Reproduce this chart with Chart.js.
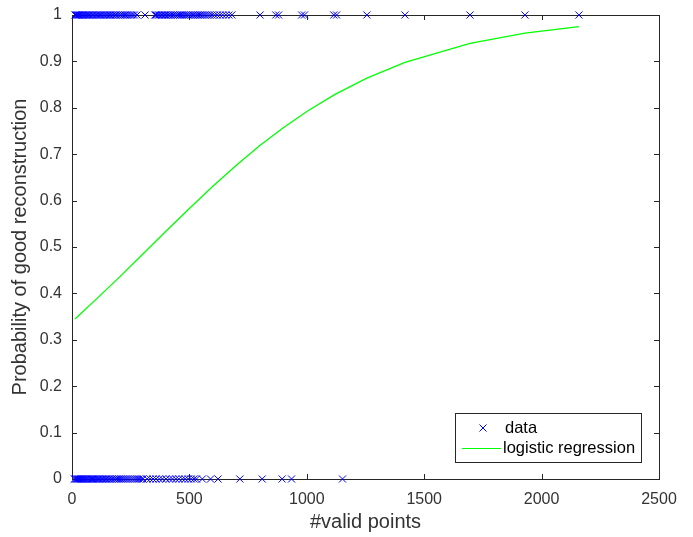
<!DOCTYPE html>
<html>
<head>
<meta charset="utf-8">
<script src="https://cdn.jsdelivr.net/npm/chart.js@4/dist/chart.umd.min.js"></script>
<style>
  html, body { margin: 0; padding: 0; background: #ffffff; }
  #wrap { width: 693px; height: 537px; position: relative; }
</style>
</head>
<body>
<div id="wrap"><canvas id="c" width="693" height="537"></canvas></div>
<script>
// ---- data ----
const goodX = [13, 17, 22, 26, 30, 35, 40, 44, 48, 53, 58, 62, 67, 72, 78, 84, 90, 96, 103, 108,
  113, 118, 124, 130, 137, 143, 150, 156, 162, 168, 175, 182, 188, 195, 203, 210, 218, 226, 233, 241,
  250, 258, 266, 277, 311, 353, 358, 364, 370, 377, 383, 390, 396, 402, 409, 415, 422, 430, 437, 445,
  452, 460, 468, 476, 485, 493, 500, 508, 515, 522, 530, 537, 545, 552, 560, 568, 577, 586, 596, 607,
  618, 630, 642, 655, 668, 681, 801, 868, 880, 978, 990, 1115, 1127, 1256, 1418, 1695, 1929, 2159];
const badX = [10, 14, 18, 22, 26, 30, 35, 39, 43, 48, 52, 57, 61, 66, 70, 75, 80, 85, 90, 95,
  100, 105, 110, 116, 121, 127, 133, 139, 145, 151, 158, 164, 171, 178, 185, 192, 200, 208, 216, 224,
  232, 240, 249, 258, 267, 276, 285, 295, 302, 320, 333, 345, 358, 372, 385, 400, 415, 428, 442, 455,
  470, 482, 495, 508, 520, 530, 555, 590, 622, 715, 810, 895, 935, 1152];
const curveX = [13, 100, 200, 300, 400, 500, 600, 700, 800, 900, 1000, 1120, 1256, 1418, 1695, 1929, 2159];
const curveY = [0.345, 0.386, 0.434, 0.484, 0.534, 0.583, 0.631, 0.676, 0.719, 0.757, 0.792, 0.829, 0.864, 0.898, 0.939, 0.961, 0.975];
const xTickValues = [0, 500, 1000, 1500, 2000, 2500];
const xTickLabels = ['0', '500', '1000', '1500', '2000', '2500'];
const yTickValues = [0, 0.1, 0.2, 0.3, 0.4, 0.5, 0.6, 0.7, 0.8, 0.9, 1];
const yTickLabels = ['0', '0.1', '0.2', '0.3', '0.4', '0.5', '0.6', '0.7', '0.8', '0.9', '1'];
const seriesNames = ['data', 'logistic regression'];
const xTitle = '#valid points';
const yTitle = 'Probability of good reconstruction';

const AXIS = '#262626';
const LABEL = '#333333';
const FONT = '"Liberation Sans", Arial, Helvetica, sans-serif';

const pointData = goodX.map(v => ({x: v, y: 1})).concat(badX.map(v => ({x: v, y: 0})));
const lineData = curveX.map((v, i) => ({x: v, y: curveY[i]}));

function drawCross(ctx, x, y, r) {
  ctx.beginPath();
  ctx.moveTo(x - r, y - r); ctx.lineTo(x + r, y + r);
  ctx.moveTo(x - r, y + r); ctx.lineTo(x + r, y - r);
  ctx.stroke();
}

const boxPlugin = {
  id: 'matlabBox',
  beforeDatasetsDraw(chart) {
    const {ctx, chartArea: a, scales} = chart;
    ctx.save();
    ctx.strokeStyle = AXIS;
    ctx.lineWidth = 1;
    ctx.strokeRect(Math.round(a.left) + 0.5, Math.round(a.top) + 0.5,
      Math.round(a.right - a.left), Math.round(a.bottom - a.top));
    const tl = 5;
    ctx.beginPath();
    xTickValues.forEach(v => {
      const px = Math.round(scales.x.getPixelForValue(v)) + 0.5;
      ctx.moveTo(px, a.bottom); ctx.lineTo(px, a.bottom - tl);
      ctx.moveTo(px, a.top); ctx.lineTo(px, a.top + tl);
    });
    yTickValues.forEach(v => {
      const py = Math.round(scales.y.getPixelForValue(v)) + 0.5;
      ctx.moveTo(a.left, py); ctx.lineTo(a.left + tl, py);
      ctx.moveTo(a.right, py); ctx.lineTo(a.right - tl, py);
    });
    ctx.stroke();
    ctx.restore();
  },
  afterDraw(chart) {
    const {ctx} = chart;
    const ds = chart.data.datasets;
    ctx.save();
    const bx = 455.5, by = 413.5, bw = 186, bh = 49;
    ctx.fillStyle = '#ffffff';
    ctx.fillRect(bx, by, bw, bh);
    ctx.strokeStyle = AXIS;
    ctx.lineWidth = 1;
    ctx.strokeRect(bx, by, bw, bh);
    ctx.font = '16.5px ' + FONT;
    ctx.fillStyle = '#000000';
    ctx.textBaseline = 'middle';
    ctx.strokeStyle = ds[0].borderColor;
    ctx.lineWidth = 1;
    drawCross(ctx, 483, 428, 3.5);
    ctx.fillText(ds[0].label, 505, 428);
    ctx.strokeStyle = ds[1].borderColor;
    ctx.beginPath();
    ctx.moveTo(462, 448.5); ctx.lineTo(501, 448.5);
    ctx.stroke();
    ctx.fillText(ds[1].label, 503, 448);
    ctx.restore();
  }
};

new Chart(document.getElementById('c'), {
  type: 'scatter',
  data: {
    datasets: [
      {
        label: seriesNames[0],
        data: pointData,
        showLine: false,
        pointStyle: 'crossRot',
        pointRadius: 5,
        pointBorderWidth: 1,
        borderColor: '#0000ff',
        backgroundColor: '#0000ff',
        clip: false,
        order: 2
      },
      {
        label: seriesNames[1],
        data: lineData,
        showLine: true,
        pointRadius: 0,
        borderWidth: 1.3,
        borderColor: '#00ff00',
        backgroundColor: '#00ff00',
        tension: 0,
        clip: false,
        order: 1
      }
    ]
  },
  options: {
    responsive: false,
    animation: false,
    devicePixelRatio: 1,
    layout: { padding: { top: 15, right: 34, left: 0, bottom: 0 } },
    plugins: {
      legend: { display: false },
      tooltip: { enabled: false }
    },
    scales: {
      x: {
        type: 'linear',
        min: 0, max: 2500,
        afterBuildTicks: s => { s.ticks = xTickValues.map(v => ({value: v})); },
        afterFit: s => { s.height = 58; s.paddingLeft = 0; s.paddingRight = 0; },
        grid: { display: false, drawTicks: false },
        border: { display: false },
        ticks: {
          color: LABEL,
          font: { size: 16, family: FONT },
          padding: 11,
          maxRotation: 0,
          callback: (v, i) => xTickLabels[i]
        },
        title: {
          display: true,
          text: xTitle,
          color: LABEL,
          font: { size: 20, family: FONT },
          padding: { top: 0, bottom: 3 }
        }
      },
      y: {
        type: 'linear',
        min: 0, max: 1,
        afterBuildTicks: s => { s.ticks = yTickValues.map(v => ({value: v})); },
        afterFit: s => { s.width = 72; s.paddingTop = 0; s.paddingBottom = 0; },
        grid: { display: false, drawTicks: false },
        border: { display: false },
        ticks: {
          color: LABEL,
          font: { size: 16, family: FONT },
          padding: 10,
          callback: (v, i) => yTickLabels[i]
        },
        title: {
          display: true,
          text: yTitle,
          color: LABEL,
          font: { size: 20, family: FONT },
          padding: { top: 8, bottom: 0 }
        }
      }
    }
  },
  plugins: [boxPlugin]
});
</script>
</body>
</html>
